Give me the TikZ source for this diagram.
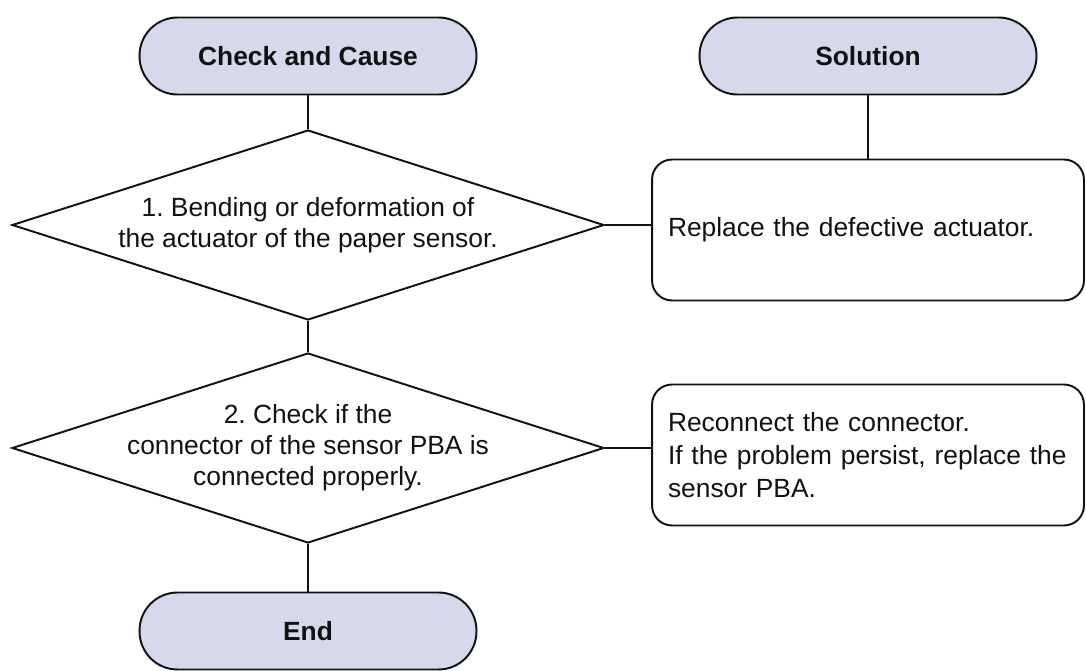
\documentclass[tikz,border=0pt]{standalone}
\usepackage{fontspec}
\setmainfont{Liberation Sans}
\usepackage{xcolor}
\usepackage{tikz}
\usetikzlibrary{shapes.geometric,positioning,calc}
\definecolor{termFill}{HTML}{D6D8EC}
\definecolor{ink}     {HTML}{111111}

\begin{document}
\frenchspacing
\begin{tikzpicture}[x=0.02cm,y=-0.02cm,
    every node/.style={font=\fontsize{15}{17.6}\selectfont, text=ink},
    terminal/.style={draw=ink, line width=1.1pt, fill=termFill, rounded corners=0.76cm,
                     minimum width=6.74cm, minimum height=1.54cm, font=\fontsize{15}{17.6}\selectfont\bfseries},
    decision/.style={draw=ink, line width=1.1pt, diamond, aspect=3.1, inner sep=-4pt,
                     minimum width=11.84cm, minimum height=3.8cm, align=center},
    action/.style={draw=ink, line width=1.1pt, rounded corners=0.4cm, align=left,
                   minimum width=8.64cm, minimum height=2.82cm, text width=8.0cm, inner xsep=0.32cm,
                   font=\fontsize{15}{18.6}\selectfont},
    link/.style={draw=ink, line width=1.1pt}]
  \useasboundingbox (0,0) rectangle (1086,670);
  \node[terminal] (cause) at (308,56) {Check and Cause};
  \node[terminal] (sol)   at (868,56) {Solution};
  \node[decision] (d1) at (308,225) {1. Bending or deformation of\\the actuator of the paper sensor.};
  \node[decision] (d2) at (308,448) {2. Check if the\\connector of the sensor PBA is\\connected properly.};
  \node[action] (fix1) at (868,230) {Replace the defective actuator.};
  \node[action] (fix2) at (868,455) {Reconnect the connector.\\If the problem persist, replace the\\sensor PBA.};
  \node[terminal] (done) at (308,631) {End};
  \draw[link] (cause) -- (d1.north);
  \draw[link] (d1.south) -- (d2.north);
  \draw[link] (d2.south) -- (done);
  \draw[link] (sol) -- (fix1);
  \draw[link] (d1.east) -- (d1.east -| fix1.west);
  \draw[link] (d2.east) -- (d2.east -| fix2.west);
\end{tikzpicture}
\end{document}
